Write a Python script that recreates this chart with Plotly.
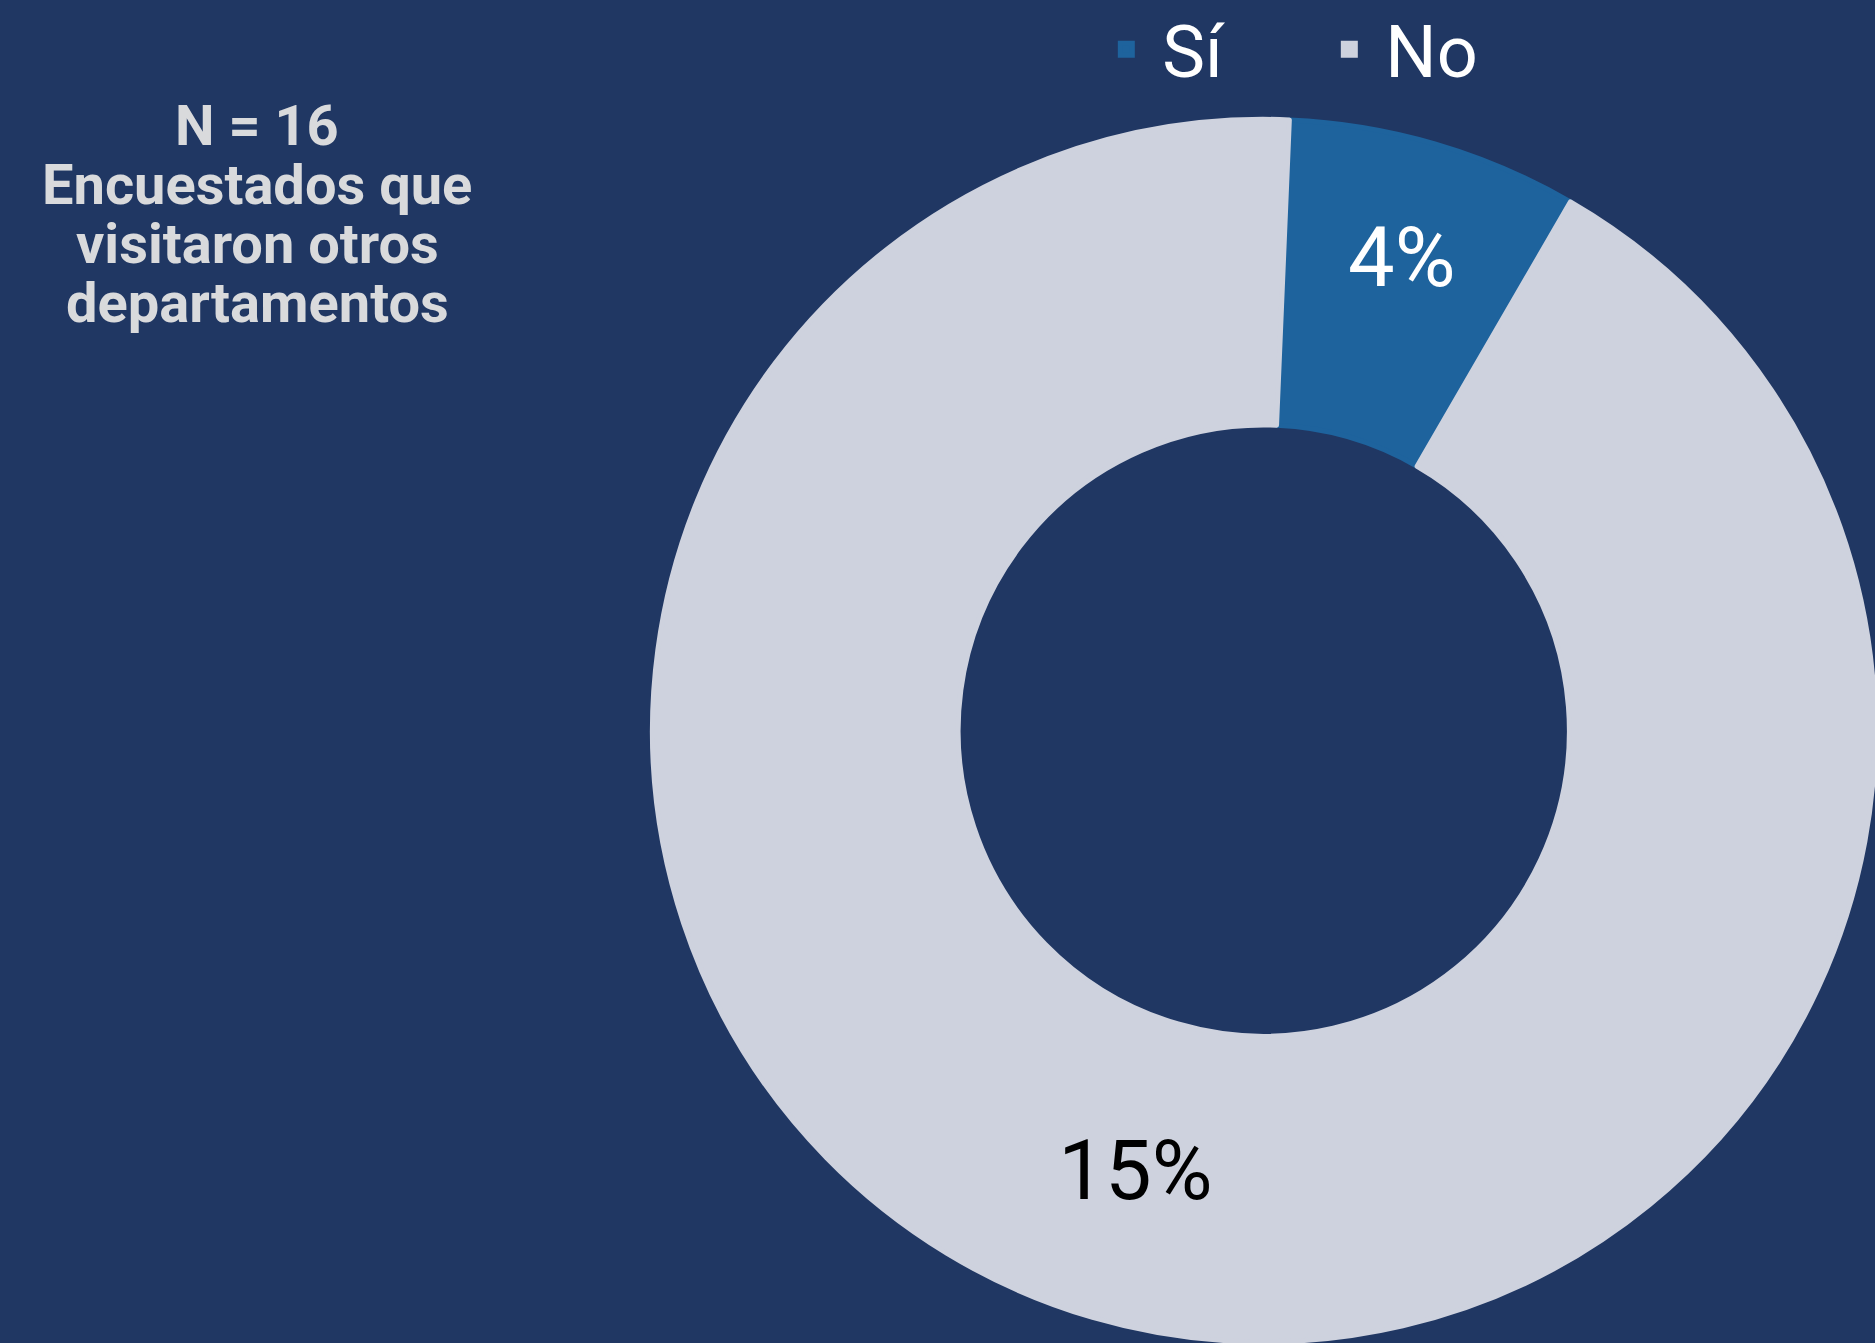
import plotly.graph_objects as go

# Data
categories = ["Sí", "No"]
slice_share = [7.7, 92.3]
label_pct = ["4%", "15%"]          # labels printed on the slices
title_lines = ["N = 16", "Encuestados que", "visitaron otros", "departamentos"]

BG = "#203763"
colors = ["#1E639D", "#CED2DE"]

fig = go.Figure()
fig.add_trace(go.Pie(
    labels=categories,
    values=slice_share,
    text=label_pct,
    textinfo="text",
    textposition="inside",
    insidetextorientation="horizontal",
    insidetextfont=dict(family="Roboto", size=83, color=["#FFFFFF", "#000000"]),
    hole=0.5,
    sort=False,
    direction="clockwise",
    rotation=2.4,
    marker=dict(colors=colors, line=dict(color=colors, width=5)),
    domain=dict(x=[0.348, 1.0], y=[0.0, 0.912]),
    hoverinfo="label+text",
))

for i, line in enumerate(title_lines):
    fig.add_annotation(
        text=f"<b>{line}</b>",
        xref="paper", yref="paper",
        x=257 / 1875, y=1 - (126 + 59 * i) / 1343,
        xanchor="center", yanchor="middle",
        showarrow=False,
        font=dict(family="Roboto", size=56, color="#D9DADC"),
    )

fig.update_layout(
    width=1875, height=1343,
    margin=dict(l=0, r=0, t=0, b=0, autoexpand=False),
    paper_bgcolor=BG, plot_bgcolor=BG,
    showlegend=True,
    legend=dict(
        orientation="h",
        x=0.5815, y=1.003, xanchor="left", yanchor="top",
        font=dict(family="Roboto", size=72, color="#FFFFFF"),
        bgcolor="rgba(0,0,0,0)",
        itemwidth=62,
        entrywidth=146, entrywidthmode="pixels",
    ),
)

fig.write_html(
    "out.html",
    config={"displayModeBar": False},
    post_script=(
        "document.documentElement.style.margin='0';"
        "document.body.style.margin='0';"
        "document.body.style.overflow='hidden';"
        f"document.body.style.background='{BG}';"
    ),
)
